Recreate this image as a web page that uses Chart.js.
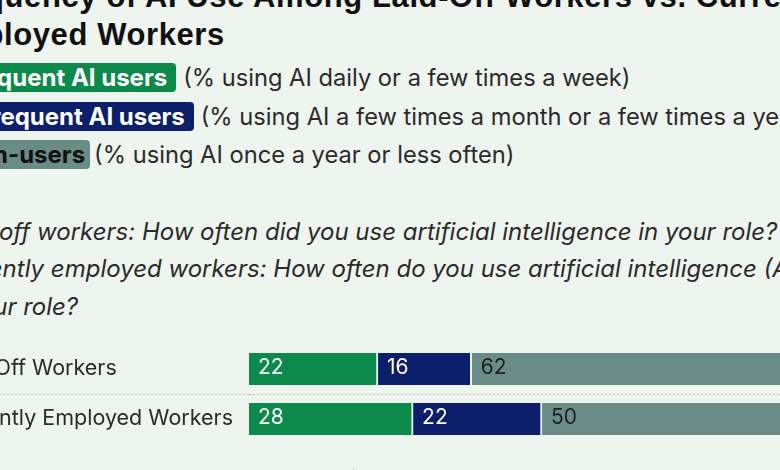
<!DOCTYPE html>
<html>
<head>
<meta charset="utf-8">
<script src="https://cdn.jsdelivr.net/npm/chart.js@4/dist/chart.umd.min.js"></script>
<style>
  html, body { margin: 0; padding: 0; }
  body {
    width: 780px; height: 470px; overflow: hidden; position: relative;
    background: #eef4ee; font-family: Inter, "Noto Sans", sans-serif; color: #2b2b2b;
  }
  .blk { position: absolute; white-space: nowrap; }
  .title { left: -65px; top: -22px; font-family: "Liberation Sans", Arial, sans-serif;
           font-size: 31px; line-height: 38px; font-weight: 700; letter-spacing: 0.6px; color: #111; }
  .legend { left: -48px; top: 63px; font-size: 23.7px; }
  .legend .row { height: 38.5px; line-height: 29px; }
  .chip { display: inline-block; height: 29px; line-height: 29px; padding: 0 9px 0 8px;
          border-radius: 4px; font-weight: 700; font-size: 24px; margin-right: 7px; }
  .q { left: -61px; top: 212.5px; font-size: 24px; line-height: 37.5px; font-style: italic; }
  .note { position: absolute; left: -75px; top: 467px; font-size: 21px; line-height: 24px;
          white-space: nowrap; color: #2b2b2b; }
  #chart { position: absolute; left: -58px; top: 344px; }
</style>
</head>
<body>
<div class="blk title">Frequency of AI Use Among Laid-Off Workers vs. Currently<br>Employed Workers</div>
<div class="blk legend">
  <div class="row"><span class="chip" style="background:#0b8a4c;color:#fff">Frequent AI users</span>(% using AI daily or a few times a week)</div>
  <div class="row"><span class="chip" style="background:#0b1f6b;color:#fff">Infrequent AI users</span>(% using AI a few times a month or a few times a year)</div>
  <div class="row"><span class="chip" style="background:#6a8c86;color:#111;padding-right:5px;margin-right:4px">Non-users</span>(% using AI once a year or less often)</div>
</div>
<div class="blk q">Laid-off workers: How often did you use artificial intelligence in your role?<br>Currently employed workers: How often do you use artificial intelligence (AI)<br>in your role?</div>
<canvas id="chart" width="893" height="100"></canvas>
<div class="note">Figures may not sum to 100% due to rounding.</div>

<script>
const groups = ['Laid-Off Workers', 'Currently Employed Workers'];
const seriesNames = ['Frequent AI users', 'Infrequent AI users', 'Non-users'];
const frequent = [22, 28];
const infrequent = [16, 22];
const nonUsers = [62, 50];

const fills = ['#0b8a4c', '#0b1f6b', '#6a8c86'];
const labelColors = ['#ffffff', '#ffffff', '#1e1e1e'];

// draws the value inside each bar segment, near its left edge
const valueLabels = {
  id: 'valueLabels',
  afterDatasetsDraw(chart) {
    const c = chart.ctx;
    c.save();
    c.font = '21px Inter';
    c.textBaseline = 'middle';
    c.textAlign = 'left';
    chart.data.datasets.forEach((ds, i) => {
      chart.getDatasetMeta(i).data.forEach((bar, j) => {
        c.fillStyle = labelColors[i];
        c.fillText(String(ds.data[j]), bar.base + 9, bar.y - 1);
      });
    });
    c.restore();
  }
};

new Chart(document.getElementById('chart'), {
  type: 'bar',
  data: {
    labels: groups,
    datasets: [frequent, infrequent, nonUsers].map((d, i) => ({
      label: seriesNames[i],
      data: d,
      backgroundColor: fills[i],
      borderColor: '#eef4ee',
      borderWidth: { right: 2 },
      borderSkipped: 'start',
      barThickness: 32
    }))
  },
  options: {
    indexAxis: 'y',
    responsive: false,
    animation: false,
    layout: { padding: 0 },
    plugins: { legend: { display: false }, tooltip: { enabled: false } },
    scales: {
      x: { stacked: true, min: 0, max: 100, display: false },
      y: {
        stacked: true,
        afterFit(scale) {
          scale.width = 307;
          scale.paddingTop = 0;
          scale.paddingBottom = 0;
        },
        border: { display: false, dash: [2, 2] },
        grid: {
          offset: true,
          tickLength: 310,
          tickBorderDash: [2, 2],
          color: ctx => ctx.index === 1 ? '#b9c1bc' : 'transparent',
          tickColor: ctx => ctx.index === 1 ? '#b9c1bc' : 'transparent'
        },
        ticks: {
          crossAlign: 'far',
          padding: 0,
          color: '#2b2b2b',
          font: { family: 'Inter', size: 21.5 }
        }
      }
    }
  },
  plugins: [valueLabels]
});
</script>
</body>
</html>
